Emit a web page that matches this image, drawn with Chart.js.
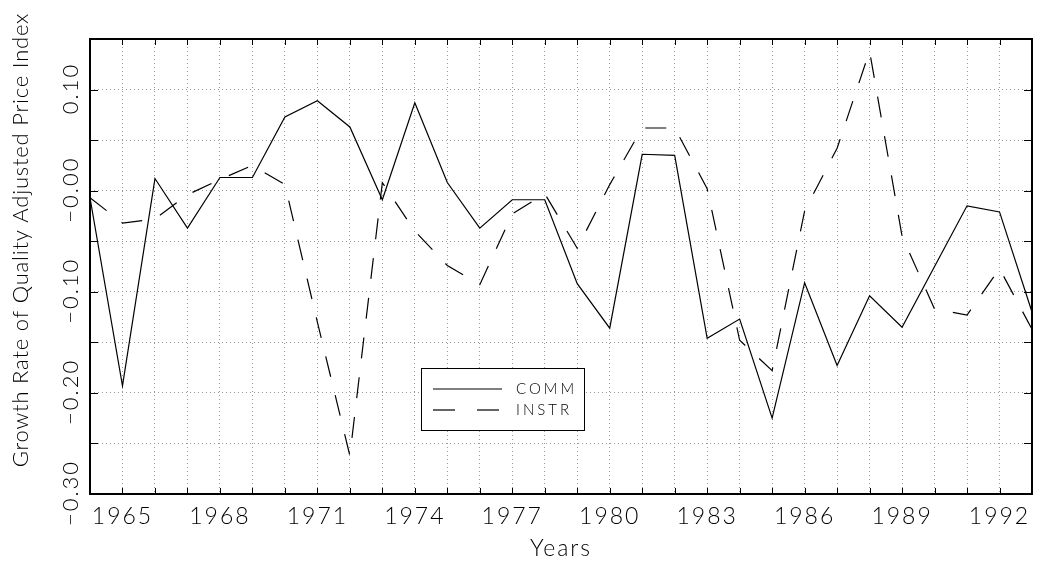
<!DOCTYPE html>
<html>
<head>
<meta charset="utf-8">
<script src="https://cdn.jsdelivr.net/npm/chart.js@4.4.1/dist/chart.umd.min.js"></script>
<style>
  html, body { margin: 0; padding: 0; background: #fff; }
  #wrap { width: 1041px; height: 566px; }
</style>
</head>
<body>
<div id="wrap"><canvas id="chart" width="1041" height="566"></canvas></div>
<script>
/* =============================
   DATA
============================= */
const years = [
  1964, 1965, 1966, 1967, 1968, 1969, 1970, 1971, 1972, 1973,
  1974, 1975, 1976, 1977, 1978, 1979, 1980, 1981, 1982, 1983,
  1984, 1985, 1986, 1987, 1988, 1989, 1990, 1991, 1992, 1993
];

const comm = [
  -0.007, -0.193, 0.012, -0.037, 0.013, 0.013, 0.073, 0.089, 0.063, -0.009,
  0.087, 0.008, -0.037, -0.009, -0.009, -0.092, -0.136, 0.036, 0.035, -0.146,
  -0.127, -0.225, -0.091, -0.173, -0.104, -0.135, -0.075, -0.015, -0.021, -0.120
];

const instr = [
  -0.007, -0.032, -0.028, -0.004, 0.011, 0.025, 0.006, -0.130, -0.262, 0.008,
  -0.040, -0.074, -0.093, -0.023, -0.003, -0.057, 0.006, 0.062, 0.062, 0.002,
  -0.148, -0.178, -0.020, 0.042, 0.138, -0.045, -0.117, -0.123, -0.077, -0.137
];

const xTickLabels = [1965, 1968, 1971, 1974, 1977, 1980, 1983, 1986, 1989, 1992];
const yTickValues = [-0.30, -0.20, -0.10, 0.00, 0.10];
const yTickLabels = ["\u22120.30", "\u22120.20", "\u22120.10", "\u22120.00", "0.10"];

const xTitle = "Years";
const yTitle = "Growth Rate of Quality Adjusted Price Index";

const FONT = "Lato, 'DejaVu Sans', sans-serif";

/* =============================
   FRAME, INWARD TICKS, LABELS, LEGEND
============================= */
const framePlugin = {
  id: "frame",
  beforeDraw(chart) {
    // the plotted lettering is widely spaced
    chart.ctx.letterSpacing = "2px";
  },
  afterDraw(chart) {
    const { ctx, chartArea: a, scales } = chart;
    const x = scales.x, y = scales.y;
    ctx.save();

    // inward tick marks on all four sides
    ctx.strokeStyle = "#000";
    ctx.lineWidth = 1;
    ctx.beginPath();
    years.forEach(yr => {
      const px = Math.round(x.getPixelForValue(yr)) + 0.5;
      ctx.moveTo(px, a.bottom); ctx.lineTo(px, a.bottom - 6);
      ctx.moveTo(px, a.top); ctx.lineTo(px, a.top + 6);
    });
    y.ticks.forEach(t => {
      const py = Math.round(y.getPixelForValue(t.value)) + 0.5;
      ctx.moveTo(a.left, py); ctx.lineTo(a.left + 8, py);
      ctx.moveTo(a.right, py); ctx.lineTo(a.right - 8, py);
    });
    ctx.stroke();

    // box
    ctx.lineWidth = 2;
    ctx.strokeRect(a.left, a.top, a.right - a.left, a.bottom - a.top);

    // rotated y tick labels
    ctx.fillStyle = "#000";
    ctx.font = "300 22px " + FONT;
    ctx.letterSpacing = "2px";
    ctx.textAlign = "center";
    ctx.textBaseline = "middle";
    yTickValues.forEach((v, i) => {
      ctx.save();
      ctx.translate(71, y.getPixelForValue(v));
      ctx.rotate(-Math.PI / 2);
      ctx.fillText(yTickLabels[i], 1, 0);
      ctx.restore();
    });

    // y title
    ctx.save();
    ctx.translate(21, 240);
    ctx.rotate(-Math.PI / 2);
    ctx.font = "300 22px " + FONT;
    ctx.letterSpacing = "0.8px";
    ctx.fillText(yTitle, 0, 0);
    ctx.restore();

    // legend box
    const lx = 421, ly = 368, lw = 163, lh = 62;
    ctx.fillStyle = "#fff";
    ctx.fillRect(lx, ly, lw, lh);
    ctx.lineWidth = 1;
    ctx.strokeStyle = "#000";
    ctx.strokeRect(lx + 0.5, ly + 0.5, lw, lh);
    chart.data.datasets.forEach((ds, i) => {
      const yy = ly + 21 + i * 21;
      ctx.beginPath();
      ctx.setLineDash(ds.borderDash && ds.borderDash.length ? [22, 22] : []);
      ctx.lineWidth = 1.2;
      ctx.moveTo(lx + 12, yy);
      ctx.lineTo(lx + 81, yy);
      ctx.stroke();
      ctx.setLineDash([]);
      ctx.fillStyle = "#000";
      ctx.font = "300 15px " + FONT;
      ctx.letterSpacing = "3px";
      ctx.textAlign = "left";
      ctx.textBaseline = "middle";
      ctx.fillText(ds.label, lx + 95, yy);
    });

    ctx.restore();
  }
};

/* =============================
   CHART
============================= */
function draw() {
  const ctx = document.getElementById("chart");
  new Chart(ctx, {
    type: "line",
    data: {
      datasets: [
        {
          label: "COMM",
          data: years.map((yr, i) => ({ x: yr, y: comm[i] })),
          borderColor: "#000",
          borderWidth: 1.2,
          pointRadius: 0,
          tension: 0,
          fill: false
        },
        {
          label: "INSTR",
          data: years.map((yr, i) => ({ x: yr, y: instr[i] })),
          borderColor: "#000",
          borderWidth: 1.2,
          borderDash: [21, 19],
          pointRadius: 0,
          tension: 0,
          fill: false
        }
      ]
    },
    options: {
      responsive: false,
      animation: false,
      devicePixelRatio: 1,
      layout: { padding: { top: 39, right: 2, left: 0, bottom: 0 } },
      plugins: {
        legend: { display: false },
        tooltip: { enabled: false }
      },
      scales: {
        x: {
          type: "linear",
          min: 1964,
          max: 1993,
          afterFit: s => { s.height = 72; },
          grid: { color: "#9a9a9a", lineWidth: 1, drawTicks: false },
          border: { display: false, dash: [1, 3] },
          ticks: {
            stepSize: 1,
            autoSkip: false,
            maxRotation: 0,
            padding: 9,
            color: "#000",
            font: { family: FONT, size: 23, weight: 300 },
            callback: v => xTickLabels.includes(v) ? String(v) : ""
          },
          title: {
            display: true,
            text: xTitle,
            color: "#000",
            font: { family: FONT, size: 23, weight: 300 },
            padding: { top: 0, bottom: 4 }
          }
        },
        y: {
          type: "linear",
          min: -0.30,
          max: 0.15,
          afterFit: s => { s.width = 90; },
          grid: { color: "#9a9a9a", lineWidth: 1, drawTicks: false },
          border: { display: false, dash: [1, 3] },
          ticks: { stepSize: 0.05, display: false }
        }
      }
    },
    plugins: [framePlugin]
  });
}

document.fonts.load("300 22px Lato").then(draw, draw);
</script>
</body>
</html>
